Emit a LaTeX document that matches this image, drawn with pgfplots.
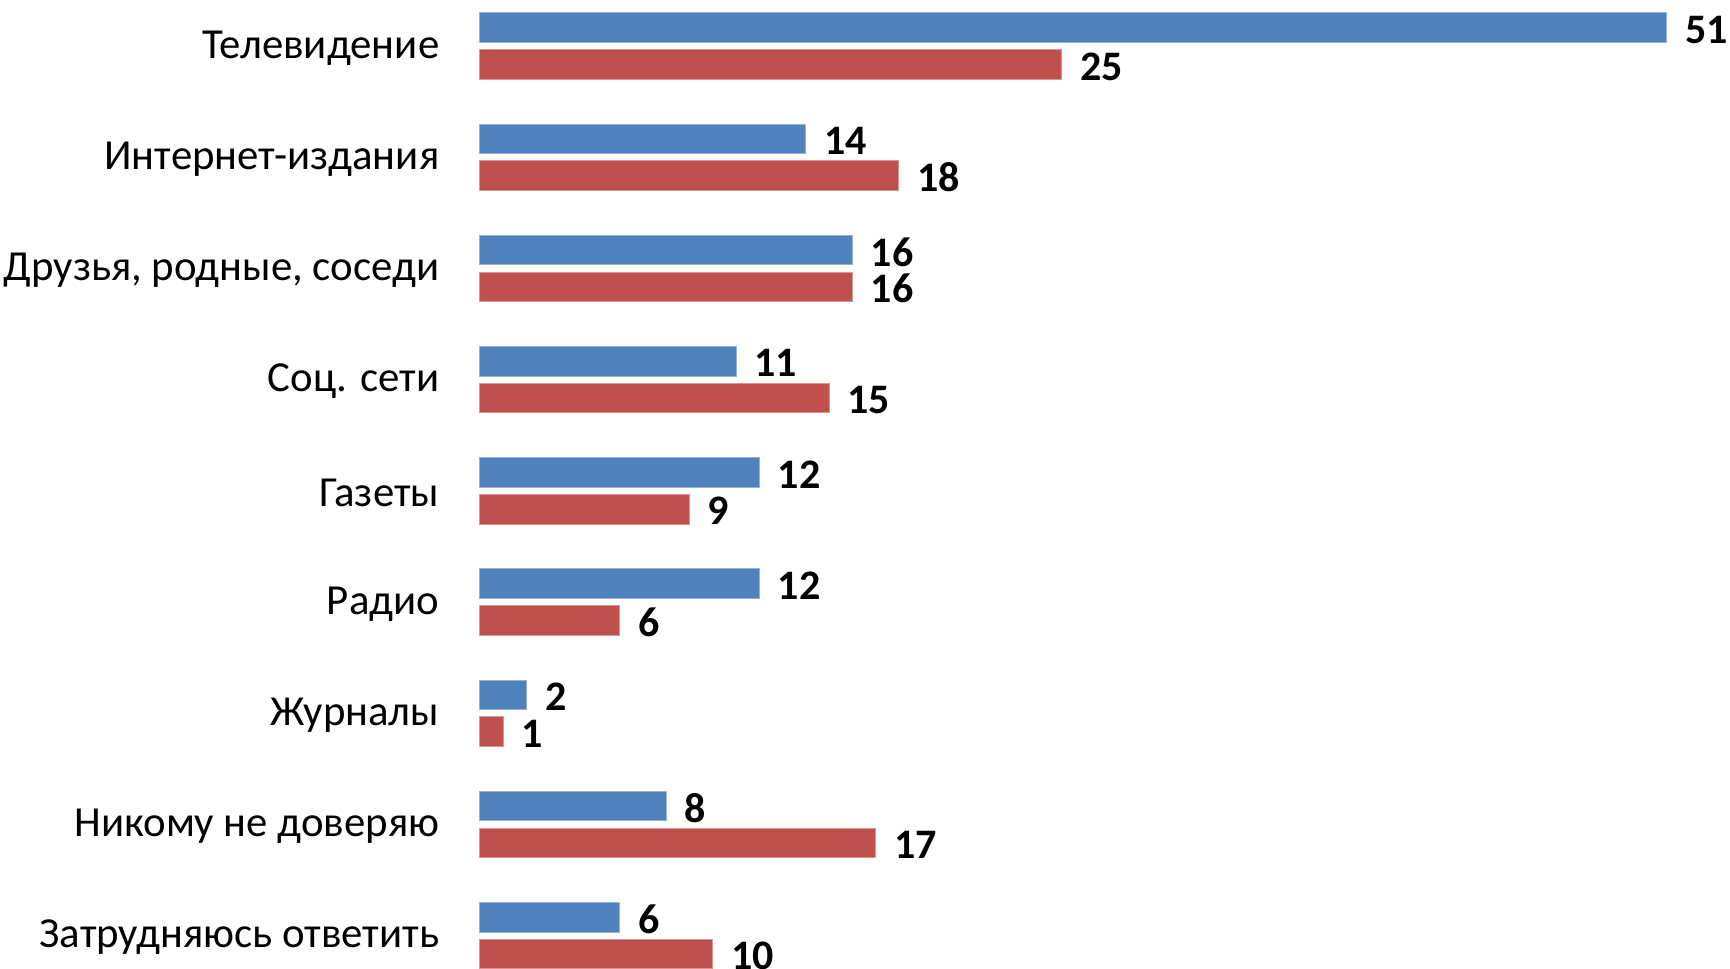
\documentclass[border=0pt]{standalone}
\usepackage{fontspec}
\setmainfont{Carlito}
\usepackage{pgfplots}
\pgfplotsset{compat=1.18}
\definecolor{cblue}{RGB}{79,129,189}
\definecolor{cred}{RGB}{192,80,77}
\begin{document}
\begin{tikzpicture}
\begin{axis}[
  scale only axis,
  width=296.75pt, height=242.25pt,
  xbar,
  xmin=0, xmax=51,
  ymin=-0.300, ymax=8.414,
  axis line style={draw=none},
  major tick length=0pt,
  xtick=\empty,
  ytick={0,...,8},
  yticklabels={Затрудняюсь ответить, Никому не доверяю, Журналы, Радио, Газеты, Соц. сети, {Друзья, родные, соседи}, Интернет-издания, Телевидение},
  yticklabel style={font=\fontsize{10.7}{12}\selectfont, anchor=east, inner sep=0pt, xshift=-10pt, yshift=-0.5pt},
  bar width=7.4pt,
  /pgf/number format/assume math mode=true,
  nodes near coords,
  nodes near coords style={font=\bfseries\fontsize{10.5}{12}\selectfont, anchor=west, inner sep=0pt, xshift=4.5pt, yshift=-0.5pt, text=black},
  clip=false,
]
\addplot[fill=cblue, draw=cblue!60!white, line width=0.25pt, bar shift=4.6pt] coordinates {
(51,8) (14,7) (16,6) (11,5) (12,4) (12,3) (2,2) (8,1) (6,0)};
\addplot[fill=cred, draw=cred!60!white, line width=0.25pt, bar shift=-4.6pt] coordinates {
(25,8) (18,7) (16,6) (15,5) (9,4) (6,3) (1,2) (17,1) (10,0)};
\end{axis}
\pgfresetboundingbox
\path[use as bounding box] (-120pt,0pt) rectangle (312.5pt,242.25pt);
\end{tikzpicture}
\end{document}
